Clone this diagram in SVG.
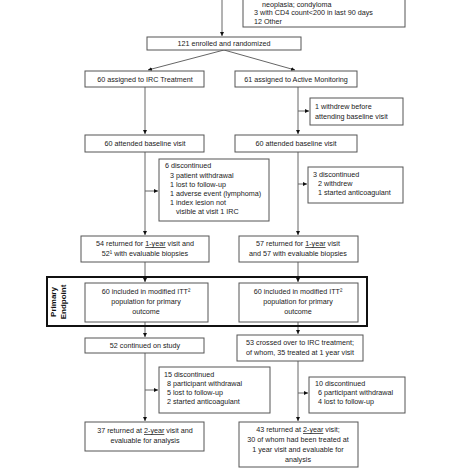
<svg xmlns="http://www.w3.org/2000/svg" width="474" height="474" viewBox="0 0 474 474">
<defs>
<style>
.b{fill:#fff;stroke:#555;stroke-width:1}
.t{font-family:"Liberation Sans",Arial,sans-serif;font-size:7.2px;fill:#1a1a1a}
.c{text-anchor:middle}
.l{stroke:#666;stroke-width:1;fill:none}
.u{text-decoration:underline}
.pe{font-family:"Liberation Sans",Arial,sans-serif;font-size:8px;font-weight:bold;fill:#111;text-anchor:middle}
</style>
<marker id="a" viewBox="0 0 6 6" refX="6" refY="3" markerWidth="4" markerHeight="4" orient="auto"><path d="M0,0 L6,3 L0,6 z" fill="#111"/></marker>
</defs>
<rect width="474" height="474" fill="#fff"/>
<g id="connectors">
<path class="l" d="M222,0 V36" marker-end="url(#a)"/>
<path class="l" d="M224,50 L148,70" marker-end="url(#a)"/>
<path class="l" d="M224,50 L295,70" marker-end="url(#a)"/>
<path class="l" d="M145,87 V134" marker-end="url(#a)"/>
<path class="l" d="M298,87 V134" marker-end="url(#a)"/>
<path class="l" d="M298,111 H309" marker-end="url(#a)"/>
<path class="l" d="M145,152 V235" marker-end="url(#a)"/>
<path class="l" d="M145,191 H158" marker-end="url(#a)"/>
<path class="l" d="M298,152 V235" marker-end="url(#a)"/>
<path class="l" d="M298,184 H307" marker-end="url(#a)"/>
<path class="l" d="M145,262 V282" marker-end="url(#a)"/>
<path class="l" d="M298,262 V282" marker-end="url(#a)"/>
<path class="l" d="M145,322 V337" marker-end="url(#a)"/>
<path class="l" d="M298,322 V334" marker-end="url(#a)"/>
<path class="l" d="M145,353 V421" marker-end="url(#a)"/>
<path class="l" d="M145,390 H158" marker-end="url(#a)"/>
<path class="l" d="M298,361 V421" marker-end="url(#a)"/>
<path class="l" d="M298,393 H308" marker-end="url(#a)"/>
</g>
<g id="excluded">
<rect class="b" x="243" y="-10" width="162" height="37"/>
<text class="t" x="262" y="7">neoplasia; condyloma</text>
<text class="t" x="254" y="15">3 with CD4 count&lt;200 in last 90 days</text>
<text class="t" x="254" y="23.5">12 Other</text>
</g>
<g id="enrolled">
<rect class="b" x="147" y="37" width="154" height="13"/>
<text class="t c" x="224" y="46">121 enrolled and randomized</text>
</g>
<g id="irc">
<rect class="b" x="85" y="71" width="119" height="16"/>
<text class="t c" x="145" y="81.5">60 assigned to IRC Treatment</text>
</g>
<g id="am">
<rect class="b" x="235" y="71" width="122" height="16"/>
<text class="t c" x="296" y="81.5">61 assigned to Active Monitoring</text>
</g>
<g id="withdrew">
<rect class="b" x="310" y="98" width="93" height="27"/>
<text class="t" x="315" y="109">1 withdrew before</text>
<text class="t" x="315" y="119">attending baseline visit</text>
</g>
<g id="baseL">
<rect class="b" x="85" y="135" width="119" height="17"/>
<text class="t c" x="145" y="146">60 attended baseline visit</text>
</g>
<g id="baseR">
<rect class="b" x="235" y="135" width="122" height="17"/>
<text class="t c" x="296" y="146">60 attended baseline visit</text>
</g>
<g id="discL1">
<rect class="b" x="159" y="159" width="110" height="62"/>
<text class="t" x="165" y="168">6 discontinued</text>
<text class="t" x="170" y="178">3 patient withdrawal</text>
<text class="t" x="170" y="187">1 lost to follow-up</text>
<text class="t" x="170" y="196">1 adverse event (lymphoma)</text>
<text class="t" x="170" y="205">1 index lesion not</text>
<text class="t" x="176" y="214">visible at visit 1 IRC</text>
</g>
<g id="discR1">
<rect class="b" x="308" y="167" width="95" height="36"/>
<text class="t" x="313" y="177">3 discontinued</text>
<text class="t" x="318" y="186">2 withdrew</text>
<text class="t" x="318" y="195">1 started anticoagulant</text>
</g>
<g id="y1L">
<rect class="b" x="81" y="236" width="128" height="26"/>
<text class="t c" x="145" y="246">54 returned for <tspan class="u">1-year</tspan> visit and</text>
<text class="t c" x="145" y="256">52¹ with evaluable biopsies</text>
</g>
<g id="y1R">
<rect class="b" x="239" y="236" width="119" height="26"/>
<text class="t c" x="298" y="246">57 returned for <tspan class="u">1-year</tspan> visit</text>
<text class="t c" x="298" y="256">and 57 with evaluable biopsies</text>
</g>
<g id="primary">
<rect x="47" y="277" width="320" height="49" fill="none" stroke="#111" stroke-width="2"/>
<text class="pe" transform="translate(56,302) rotate(-90)">Primary</text>
<text class="pe" transform="translate(66,302) rotate(-90)">Endpoint</text>
</g>
<g id="ittL">
<rect class="b" x="85" y="283" width="123" height="39"/>
<text class="t c" x="146" y="294">60 included in modified ITT²</text>
<text class="t c" x="146" y="304">population for primary</text>
<text class="t c" x="146" y="314">outcome</text>
</g>
<g id="ittR">
<rect class="b" x="239" y="283" width="119" height="39"/>
<text class="t c" x="298" y="294">60 included in modified ITT²</text>
<text class="t c" x="298" y="304">population for primary</text>
<text class="t c" x="298" y="314">outcome</text>
</g>
<g id="continued">
<rect class="b" x="85" y="338" width="119" height="15"/>
<text class="t c" x="145" y="348">52 continued on study</text>
</g>
<g id="crossed">
<rect class="b" x="237" y="335" width="126" height="26"/>
<text class="t c" x="300" y="345">53 crossed over to IRC treatment;</text>
<text class="t c" x="300" y="355">of whom, 35 treated at 1 year visit</text>
</g>
<g id="discL2">
<rect class="b" x="159" y="367" width="111" height="46"/>
<text class="t" x="164" y="377">15 discontinued</text>
<text class="t" x="167" y="386">8 participant withdrawal</text>
<text class="t" x="167" y="395">5 lost to follow-up</text>
<text class="t" x="167" y="404">2 started anticoagulant</text>
</g>
<g id="discR2">
<rect class="b" x="309" y="377" width="96" height="36"/>
<text class="t" x="315" y="386">10 discontinued</text>
<text class="t" x="318" y="395">6 participant withdrawal</text>
<text class="t" x="318" y="404">4 lost to follow-up</text>
</g>
<g id="y2L">
<rect class="b" x="85" y="422" width="119" height="29"/>
<text class="t c" x="145" y="433">37 returned at <tspan class="u">2-year</tspan> visit and</text>
<text class="t c" x="145" y="443">evaluable for analysis</text>
</g>
<g id="y2R">
<rect class="b" x="239" y="422" width="119" height="45"/>
<text class="t c" x="298" y="432">43 returned at <tspan class="u">2-year</tspan> visit;</text>
<text class="t c" x="298" y="442">30 of whom had been treated at</text>
<text class="t c" x="298" y="452">1 year visit and evaluable for</text>
<text class="t c" x="298" y="462">analysis</text>
</g>
</svg>
